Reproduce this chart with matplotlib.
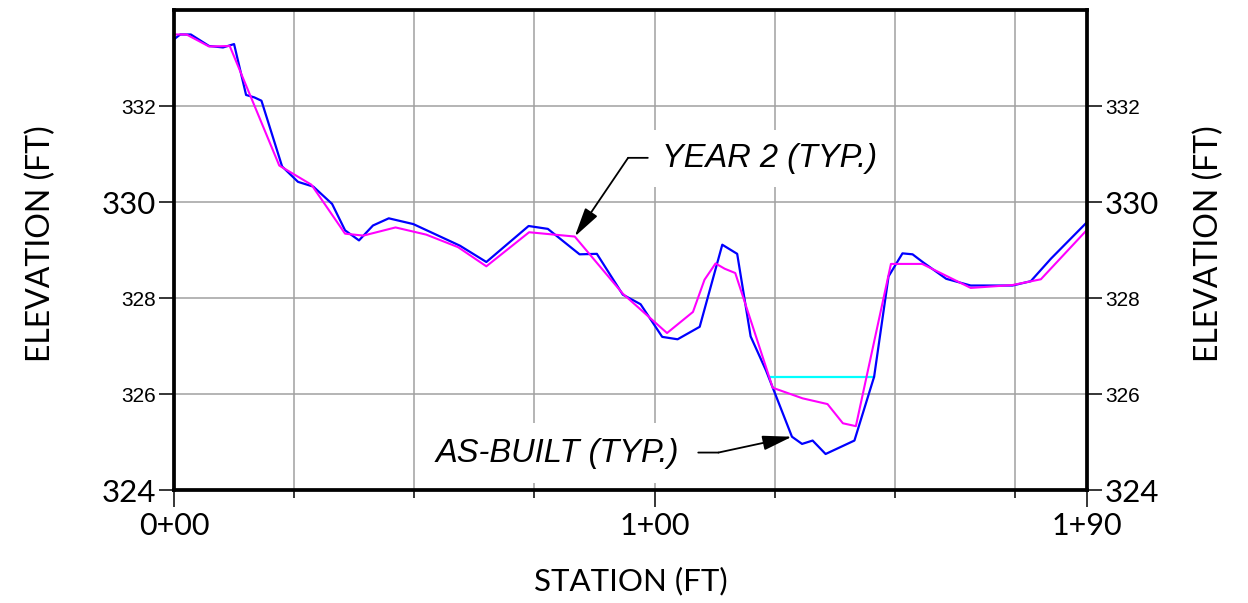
import matplotlib
matplotlib.use('Agg')
import matplotlib.pyplot as plt

# ---- data (station ft, elevation ft) ----
station_asbuilt = [0.0, 1.3, 3.5, 7.3, 10.2, 12.5, 15.0, 16.7, 18.2, 22.5, 25.8, 29.0,
                   32.9, 35.6, 38.5, 41.4, 44.7, 49.8, 59.5, 65.0, 73.8, 77.8, 84.4,
                   88.0, 93.4, 97.1, 101.6, 104.8, 109.4, 114.1, 117.2, 120.0, 123.2,
                   128.6, 130.7, 132.9, 135.6, 141.6, 145.7, 148.7, 151.6, 153.7,
                   155.8, 160.7, 165.8, 174.5, 178.3, 182.5, 190.0]
elev_asbuilt = [333.39, 333.49, 333.49, 333.25, 333.22, 333.29, 332.23, 332.18, 332.11,
                330.74, 330.42, 330.32, 329.96, 329.41, 329.20, 329.51, 329.66, 329.54,
                329.09, 328.75, 329.50, 329.44, 328.91, 328.92, 328.07, 327.87, 327.19,
                327.14, 327.40, 329.11, 328.92, 327.20, 326.49, 325.11, 324.96, 325.03,
                324.75, 325.03, 326.36, 328.45, 328.93, 328.91, 328.75, 328.40, 328.26,
                328.26, 328.35, 328.82, 329.58]

station_year2 = [0.0, 2.6, 7.3, 11.6, 21.9, 28.6, 35.6, 39.4, 46.1, 52.5, 59.1, 65.0,
                 73.9, 83.4, 93.4, 102.6, 108.0, 110.4, 112.7, 114.6, 116.8, 124.6,
                 130.8, 136.0, 139.2, 141.9, 149.2, 155.7, 165.8, 174.5, 180.4, 190.0]
elev_year2 = [333.49, 333.49, 333.24, 333.25, 330.76, 330.36, 329.34, 329.30, 329.47,
              329.32, 329.06, 328.66, 329.37, 329.28, 328.09, 327.27, 327.71, 328.38,
              328.72, 328.61, 328.52, 326.13, 325.91, 325.79, 325.39, 325.33, 328.71,
              328.71, 328.21, 328.27, 328.39, 329.42]

wse_station = [124.3, 145.7]
wse_elev = [326.36, 326.36]

ytick_vals = [324, 326, 328, 330, 332]
ytick_big = [324, 330]
xtick_vals = [0, 100, 190]
xtick_labels = ['0+00', '1+00', '1+90']
xminor_vals = [25, 50, 75, 125, 150, 175]

W, H = 1248, 603
fig = plt.figure(figsize=(W / 100, H / 100), dpi=100)
ax = fig.add_axes([174 / W, 1 - 490 / H, (1087 - 174) / W, 480 / H])
ax.set_xlim(0, 190)
ax.set_ylim(324, 334)

ax.set_axisbelow(True)
ax.grid(True, which='both', axis='x', color='#a0a0a0', lw=1.1)
ax.grid(True, which='major', axis='y', color='#a0a0a0', lw=1.1)

ax.plot(wse_station, wse_elev, color='#00ffff', lw=1.6, zorder=2)
ax.plot(station_asbuilt, elev_asbuilt, color='#0000ff', lw=1.6, zorder=3)
ax.plot(station_year2, elev_year2, color='#ff00ff', lw=1.5, zorder=4)

for s in ax.spines.values():
    s.set_linewidth(2.7)
    s.set_zorder(6)

ax.set_xticks(xtick_vals)
ax.set_xticklabels(xtick_labels, fontfamily='Lato', fontsize=22)
ax.set_xticks(xminor_vals, minor=True)
ax.tick_params(axis='x', which='major', direction='out', length=12, width=1.1, pad=4)
ax.tick_params(axis='x', which='minor', direction='out', length=6, width=1.1)

ax.set_yticks(ytick_vals)
ax.set_yticklabels([str(v) for v in ytick_vals])
ax.tick_params(axis='y', which='major', direction='out', length=11, width=1.1, pad=2,
               left=True, right=True, labelleft=True, labelright=True)
for t, v in zip(ax.yaxis.get_major_ticks(), ytick_vals):
    for lab in (t.label1, t.label2):
        if v in ytick_big:
            lab.set_fontfamily('Lato')
            lab.set_fontsize(22.5)
        else:
            lab.set_fontfamily('Liberation Sans')
            lab.set_fontsize(15)

fig.text(41 / W, 1 - 244 / H, 'ELEVATION (FT)', rotation=90, ha='center', va='center',
         fontfamily='Lato', fontsize=23)
fig.text(1209 / W, 1 - 244 / H, 'ELEVATION (FT)', rotation=90, ha='center', va='center',
         fontfamily='Lato', fontsize=23)
fig.text(631 / W, 1 - 581 / H, 'STATION (FT)', ha='center', va='center',
         fontfamily='Lato', fontsize=22.5)

# ---- callouts ----
ann_font = dict(fontfamily='Liberation Sans', style='italic', fontsize=23.5)
arrow = dict(arrowstyle='-|>,head_length=1.8,head_width=0.45', color='black', lw=1.3,
             shrinkA=0, shrinkB=0, mutation_scale=10)
plain = dict(arrowstyle='-', color='black', lw=1.3, shrinkA=0, shrinkB=0)

i2 = station_year2.index(83.4)
ax.text(101.6, 330.72, 'YEAR 2 (TYP.)', ha='left', va='baseline', zorder=5,
        bbox=dict(boxstyle='square,pad=0.4', fc='white', ec='none'), **ann_font)
ax.annotate('', xy=(94.5, 330.92), xytext=(98.6, 330.92), arrowprops=plain, zorder=5)
ax.annotate('', xy=(station_year2[i2], elev_year2[i2]), xytext=(94.5, 330.92),
            arrowprops=arrow, zorder=5)

ia = station_asbuilt.index(128.6)
ax.text(54.5, 324.59, 'AS-BUILT (TYP.)', ha='left', va='baseline', zorder=5,
        bbox=dict(boxstyle='square,pad=0.45', fc='white', ec='none'), **ann_font)
ax.annotate('', xy=(113.3, 324.78), xytext=(109.1, 324.78), arrowprops=plain, zorder=5)
ax.annotate('', xy=(station_asbuilt[ia], elev_asbuilt[ia]), xytext=(113.3, 324.78),
            arrowprops=arrow, zorder=5)

fig.savefig('out.png', dpi=100, facecolor='white')
